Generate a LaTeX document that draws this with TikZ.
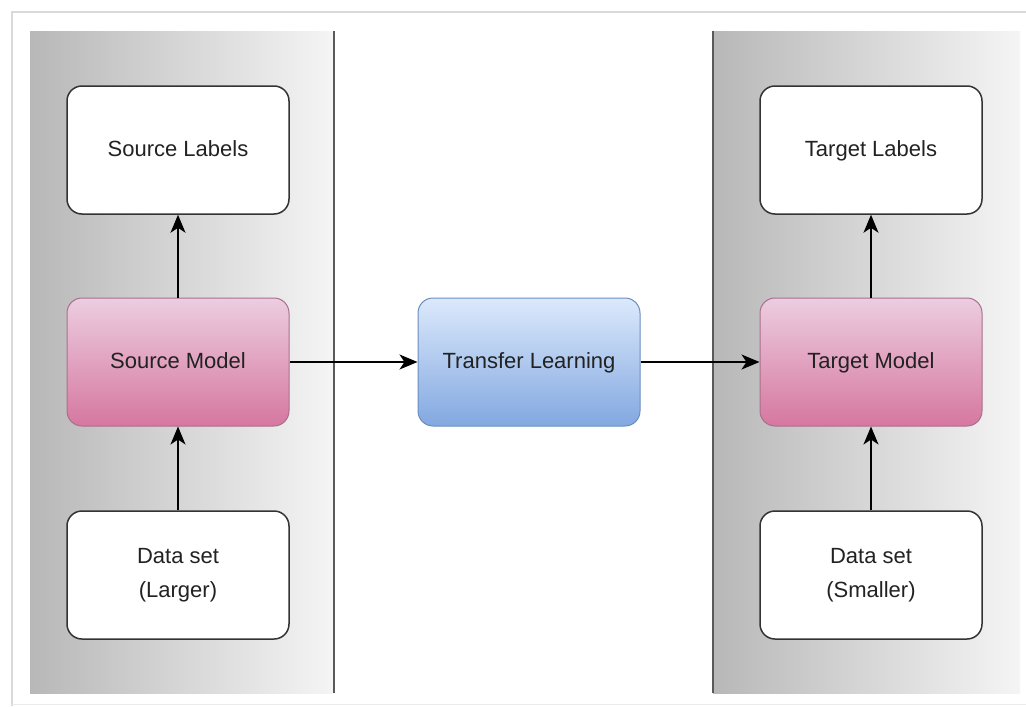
\documentclass[tikz,border=0pt]{standalone}
\usepackage{fontspec}
\setmainfont{Liberation Sans}
\usetikzlibrary{arrows.meta}

\definecolor{txt}{HTML}{222222}
\definecolor{pinktop}{HTML}{ECCDE0}
\definecolor{pinkbot}{HTML}{D6779F}
\definecolor{pinkline}{HTML}{A8708F}
\definecolor{bluetop}{HTML}{DCE9FC}
\definecolor{bluebot}{HTML}{82A8E0}
\definecolor{blueline}{HTML}{6C8EBF}

\tikzset{
  box/.style={rectangle, rounded corners=15pt, minimum width=222pt, minimum height=128pt,
    align=center, text=txt, font=\fontsize{22}{34}\selectfont},
  plainbox/.style={box, draw=black!80, line width=1.5pt, fill=white},
  modelbox/.style={box, draw=pinkline, line width=1pt, top color=pinktop, bottom color=pinkbot},
  transferbox/.style={box, draw=blueline, line width=1pt, top color=bluetop, bottom color=bluebot},
  arrow/.style={draw=black, line width=1.5pt, -{Stealth[length=18pt,width=15pt,inset=5pt]}}
}

\begin{document}
\begin{tikzpicture}[x=1pt, y=-1pt]
				\useasboundingbox (0,0) rectangle (1026,707);
				\fill[white] (0,0) rectangle (1026,707);
				
				% frame
				\draw[gray!30, line width=2pt] (12,706) -- (12,12) -- (1026,12);
				\draw[gray!15, line width=1pt] (12,704) -- (1026,704);
				
				% panels
				\shade[left color=black!28, right color=black!4] (30,31) rectangle (334,693);
				\draw[black!65, line width=1.5pt] (334,31) -- (334,693);
				\shade[left color=black!28, right color=black!4] (713,31) rectangle (1020,693);
				\draw[black!65, line width=1.5pt] (713,31) -- (713,693);
				
				% source side
				\node[plainbox] (srclabels) at (178,150) {\strut Source Labels};
				\node[modelbox] (srcmodel) at (178,362) {\strut Source Model};
				\node[plainbox] (srcdata) at (178,575) {Data set\\(Larger)};
				
				\node[transferbox] (transfer) at (529,362) {\strut Transfer Learning};
				
				% target side
				\node[plainbox] (tgtlabels) at (871,150) {\strut Target Labels};
				\node[modelbox] (tgtmodel) at (871,362) {\strut Target Model};
				\node[plainbox] (tgtdata) at (871,575) {Data set\\(Smaller)};
				
				\draw[arrow] (srcmodel) -- (srclabels);
				\draw[arrow] (srcdata) -- (srcmodel);
				\draw[arrow] (srcmodel) -- (transfer);
				\draw[arrow] (transfer) -- (tgtmodel);
				\draw[arrow] (tgtmodel) -- (tgtlabels);
				\draw[arrow] (tgtdata) -- (tgtmodel);
\end{tikzpicture}
\end{document}
